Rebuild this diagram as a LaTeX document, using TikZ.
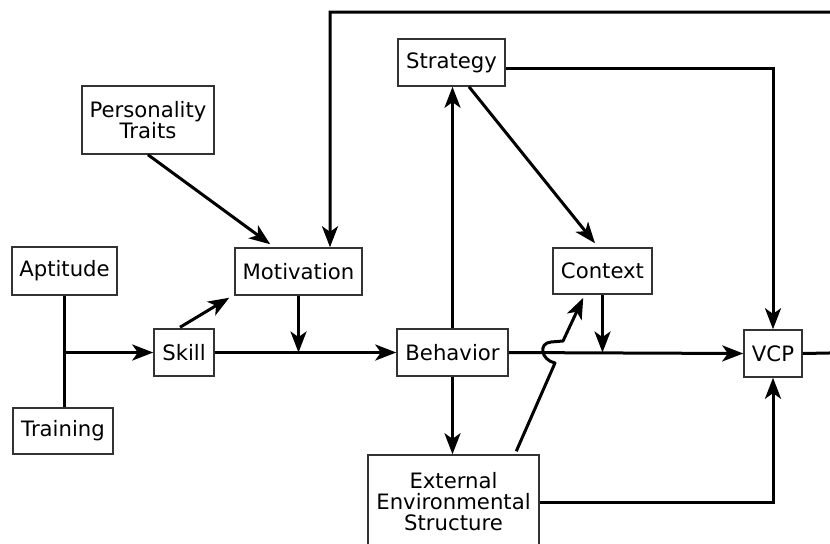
\documentclass[tikz,border=0pt]{standalone}
\usepackage{fontspec}
\setmainfont{DejaVu Sans}
\usetikzlibrary{arrows.meta}
\begin{document}
\begin{tikzpicture}[x=0.5pt,y=-0.5pt,
  box/.style={draw=black!80, line width=0.75pt, inner sep=0pt, align=center,
    font=\fontsize{10.6}{10.5}\selectfont},
  link/.style={line width=1.5pt, draw=black},
  arr/.style={link, -{Stealth[length=10.5pt,width=8pt,inset=2.8pt]}}]
\useasboundingbox (0,0) rectangle (830,543);
\clip (0,0) rectangle (830,543);

% boxes
\node[box, minimum width=52.5pt, minimum height=24pt]   (apt) at (64.5,271)  {Aptitude};
\node[box, minimum width=50pt,   minimum height=23pt]   (trn) at (63,431)    {Training};
\node[box, minimum width=30pt,   minimum height=23.5pt] (skl) at (184,352.5) {Skill};
\node[box, minimum width=63.5pt, minimum height=23.5pt] (mot) at (298.5,271.5) {Motivation};
\node[box, minimum width=66pt,   minimum height=34pt]   (per) at (148,120)   {Personality\\Traits};
\node[box, minimum width=53.5pt, minimum height=23.5pt] (str) at (451.5,62.5) {Strategy};
\node[box, minimum width=55.5pt, minimum height=23.5pt] (beh) at (452.5,352.5) {Behavior};
\node[box, minimum width=49.5pt, minimum height=23pt]   (ctx) at (602.5,271) {Context};
\node[box, minimum width=29pt,   minimum height=23.5pt] (vcp) at (773,353.5) {VCP};
\node[box, minimum width=85.5pt, minimum height=47pt]   (ext) at (453.5,502) {External\\Environmental\\Structure};

% aptitude and training join into skill
\draw[link] (apt.south) -- (apt.south |- trn.north);
\draw[arr] (apt.south |- skl.west) -- (skl.west);

% main chain
\draw[arr] (skl.east) -- (beh.west);
\draw[arr] (beh.east) -- (vcp.west);
\draw[arr] ([xshift=-2pt,yshift=0.5pt]skl.north) -- ([xshift=-2.5pt,yshift=-1pt]mot.south west);
\draw[arr] (per.south) -- ([xshift=18pt,yshift=1.5pt]mot.north west);
\draw[arr] (mot.south) -- (mot.south |- skl.east);

% strategy, context and structure
\draw[arr] (beh.north) -- (beh.north |- str.south);
\draw[arr] (beh.south) -- (beh.south |- ext.north);
\draw[arr] ([xshift=8.75pt]str.south) -- ([xshift=-3.75pt,yshift=2pt]ctx.north);
\draw[arr] (ctx.south) -- (ctx.south |- beh.east);
\coordinate (strout) at ([yshift=-2.75pt]str.east);
\draw[arr] (strout) -- (vcp.north |- strout) -- (vcp.north);
\draw[arr] (ext.east) -- (vcp.south |- ext.east) -- (vcp.south);

% structure acts on context, hopping over the behaviour line
\coordinate (hop) at (555,363);
\draw[arr, line join=round] ([xshift=74.5pt,yshift=1.5pt]ext.north west) -- (hop)
  .. controls (541,360) and (538,343) .. (551,342)
  -- (563,341) -- ([xshift=15.5pt,yshift=-1.5pt]ctx.south west);

% feedback from VCP back to motivation
\coordinate (fb) at (330,12);
\draw[arr] (vcp.east) -- (880,352) -- (880,12) -- (fb) -- (fb |- mot.north);
\end{tikzpicture}
\end{document}
